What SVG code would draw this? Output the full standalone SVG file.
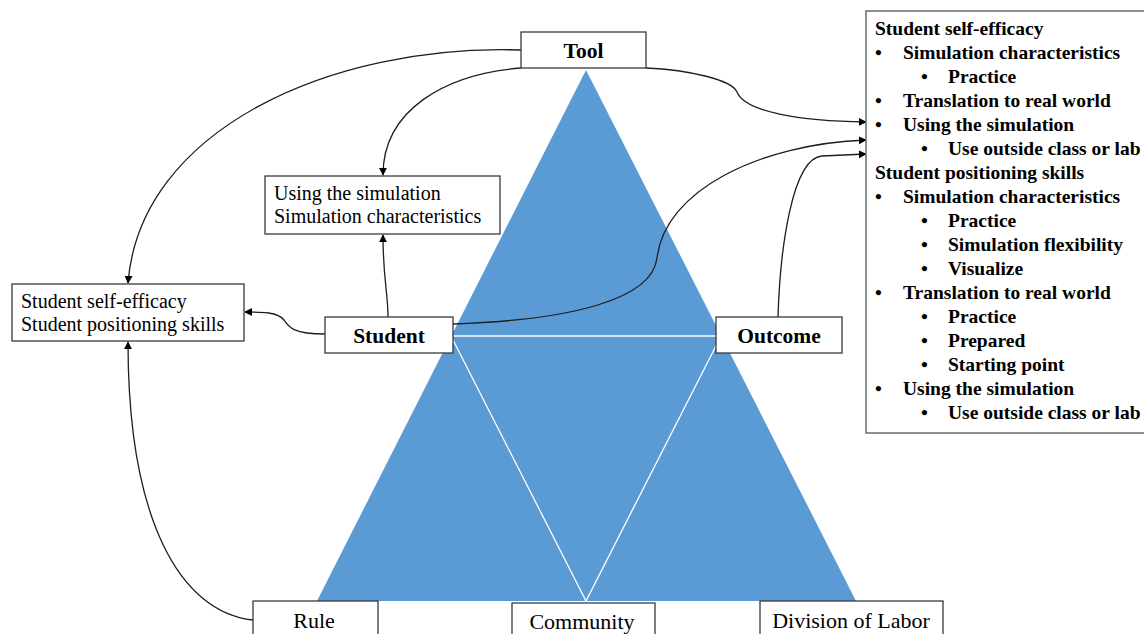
<svg xmlns="http://www.w3.org/2000/svg" width="1144" height="634" viewBox="0 0 1144 634">
  <style>
    .box { fill: #ffffff; stroke: #3a3a3a; stroke-width: 1.3; }
    .frame { fill: #ffffff; stroke: #6a6a6a; stroke-width: 1.5; }
    .lbl { font-family: "Liberation Serif", "Times New Roman", serif; font-size: 22px; fill: #000; text-anchor: middle; }
    .lblb { font-family: "Liberation Serif", "Times New Roman", serif; font-size: 21.5px; font-weight: bold; fill: #000; text-anchor: middle; }
    .txt { font-family: "Liberation Serif", "Times New Roman", serif; font-size: 20px; fill: #000; }
    .list { font-family: "Liberation Serif", "Times New Roman", serif; font-size: 19.5px; font-weight: bold; fill: #000; }
    .conn { fill: none; stroke: #1e1e1e; stroke-width: 1.3; }
    .inner { fill: none; stroke: #ffffff; stroke-width: 1.3; }
  </style>
  <defs>
    <marker id="arrow" viewBox="0 0 10 10" refX="9" refY="5" markerWidth="8" markerHeight="8" markerUnits="userSpaceOnUse" orient="auto">
      <path d="M0,0 L10,5 L0,10 Z" fill="#000"/>
    </marker>
  </defs>

  <!-- activity triangle -->
  <g id="triangle">
    <polygon points="586,70 856,601 317,601" fill="#5B9BD5"/>
    <path class="inner" d="M451,336 L721,336 M451,336 L586,601 L721,336"/>
  </g>

  <!-- connectors -->
  <g id="connectors">
    <path class="conn" marker-end="url(#arrow)" d="M521,50 C 330,44 140,130 128,283"/>
    <path class="conn" marker-end="url(#arrow)" d="M521,68 C 445,74 383,110 383,175"/>
    <path class="conn" marker-end="url(#arrow)" d="M646,68 C 690,70 732,80 737,92 C 745,112 800,121 866,122"/>
    <path class="conn" marker-end="url(#arrow)" d="M453,324 C 570,320 652,300 657,258 C 665,190 760,144 866,140"/>
    <path class="conn" marker-end="url(#arrow)" d="M778,317 C 780,250 792,158 822,156 L 866,154"/>
    <path class="conn" marker-end="url(#arrow)" d="M388,317 C 388,292 383,280 383,235"/>
    <path class="conn" marker-end="url(#arrow)" d="M325,334 C 292,334 288,326 284,320 C 278,312 262,312 245,312"/>
    <path class="conn" marker-end="url(#arrow)" d="M253,620 C 180,612 128,520 128,342"/>
  </g>

  <g id="tool">
    <rect class="box" x="521" y="32" width="125" height="36"/>
    <text class="lblb" x="583.5" y="58">Tool</text>
  </g>

  <g id="student">
    <rect class="box" x="325" y="317" width="128" height="36"/>
    <text class="lblb" x="389" y="343">Student</text>
  </g>

  <g id="outcome">
    <rect class="box" x="716" y="317" width="126" height="36"/>
    <text class="lblb" x="779" y="343">Outcome</text>
  </g>

  <g id="rule">
    <rect class="box" x="253" y="601" width="125" height="40"/>
    <text class="lbl" x="314" y="628">Rule</text>
  </g>

  <g id="community">
    <rect class="box" x="512" y="603" width="143" height="40"/>
    <text class="lbl" x="582" y="629">Community</text>
  </g>

  <g id="division">
    <rect class="box" x="760" y="601" width="183" height="40"/>
    <text class="lbl" x="851" y="628">Division of Labor</text>
  </g>

  <g id="tool-themes">
    <rect class="box" x="265" y="176" width="235" height="58"/>
    <text class="txt" x="274" y="200">Using the simulation</text>
    <text class="txt" x="274" y="223">Simulation characteristics</text>
  </g>

  <g id="student-themes">
    <rect class="box" x="12" y="284" width="232" height="57"/>
    <text class="txt" x="21" y="308">Student self-efficacy</text>
    <text class="txt" x="21" y="331">Student positioning skills</text>
  </g>

  <g id="outcome-themes">
    <rect class="frame" x="866" y="11" width="290" height="422"/>
    <g class="list">
      <text x="875" y="35">Student self-efficacy</text>
      <text x="875" y="59">•</text><text x="903" y="59">Simulation  characteristics</text>
      <text x="921" y="83">•</text><text x="948" y="83">Practice</text>
      <text x="875" y="107">•</text><text x="903" y="107">Translation  to real world</text>
      <text x="875" y="131">•</text><text x="903" y="131">Using the simulation</text>
      <text x="921" y="155">•</text><text x="948" y="155">Use outside class or lab</text>
      <text x="875" y="179">Student positioning skills</text>
      <text x="875" y="203">•</text><text x="903" y="203">Simulation  characteristics</text>
      <text x="921" y="227">•</text><text x="948" y="227">Practice</text>
      <text x="921" y="251">•</text><text x="948" y="251">Simulation  flexibility</text>
      <text x="921" y="275">•</text><text x="948" y="275">Visualize</text>
      <text x="875" y="299">•</text><text x="903" y="299">Translation  to real world</text>
      <text x="921" y="323">•</text><text x="948" y="323">Practice</text>
      <text x="921" y="347">•</text><text x="948" y="347">Prepared</text>
      <text x="921" y="371">•</text><text x="948" y="371">Starting point</text>
      <text x="875" y="395">•</text><text x="903" y="395">Using the simulation</text>
      <text x="921" y="419">•</text><text x="948" y="419">Use outside class or lab</text>
    </g>
  </g>
</svg>
